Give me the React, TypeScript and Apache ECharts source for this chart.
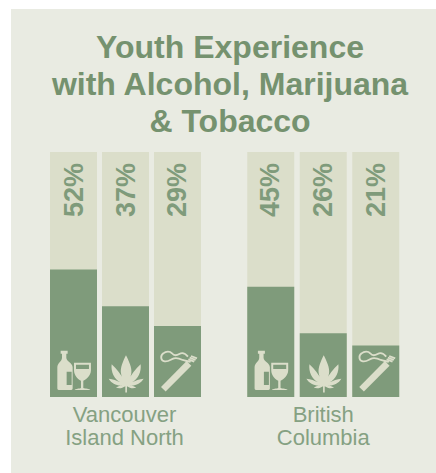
import React, { useEffect, useRef } from "react";
import * as echarts from "echarts";

const categories = ["Alcohol", "Marijuana", "Tobacco"];
const vancouverIslandNorth = [52, 37, 29];
const britishColumbia = [45, 26, 21];
const fullScale = [100, 100, 100];
const regionNames = ["Vancouver\nIsland North", "British\nColumbia"];
const titleText = "Youth Experience\nwith Alcohol, Marijuana\n& Tobacco";

const PANEL = "#e9ebe2";
const DARK = "#7f9b7b";
const LIGHT = "#dbdeca";
const TITLE = "#75926f";
const REGION = "#85a182";
const FONT = "'Liberation Sans', Arial, sans-serif";

// Icon outlines are drawn at three times the bar's pixel size; the 171-unit box sits on the bar's baseline.
const ICON_H = 171;
const BAR_W = 47;

const bottleGlass =
  "M32 32H53V41H49V53C49 65 68 68 68 82V146Q68 150 64 150H26Q22 150 22 146V82C22 68 36 65 36 53V41H32Z" +
  "M50 95V135H65V95Z" +
  "M72 68H123V90C123 108 107 120 100 122V144C106 146 119 146 121 150H74C76 146 89 146 93 144V122C86 120 72 108 72 90Z" +
  "M78 74V87H117V74Z";

const leaf =
  "M72 46C80 62 91 84 88 100C87 108 83 116 78 122C88 104 100 88 116 73C119 96 108 118 90 127C100 122 112 117 125 116C116 131 100 138 84 136" +
  "C90 137 96 139 103 143C93 147 84 145 75 139V158H70V139C61 145 52 147 42 143C49 139 55 137 61 136" +
  "C45 138 29 131 20 116C33 117 45 122 55 127C37 118 26 96 29 73C45 88 57 104 67 122C62 116 58 108 57 100C54 84 64 62 72 46Z";

const cigaretteStick = "M21 141L98 63L112 77L35 155Z";
const cigaretteFilter = "M103 58L121 65M107 53L125 60M111 48L129 55";
const cigaretteSmoke =
  "M102 50C94 40 84 37 76 42C68 47 60 48 54 40C48 33 36 33 28 40C18 48 20 62 32 64C44 66 50 58 60 55C70 52 78 56 86 60C94 63 102 63 110 66";

function makeIcon(index: number, x: number, bottom: number) {
  const pathOf = (d: string, style: object) => ({ type: "path", shape: { pathData: d }, style });
  const solid = { fill: LIGHT, stroke: "none" };
  const line = { fill: "none", stroke: LIGHT, lineWidth: 5.5 };
  const children =
    index === 0
      ? [pathOf(bottleGlass, solid)]
      : index === 1
        ? [pathOf(leaf, solid)]
        : [pathOf(cigaretteStick, solid), pathOf(cigaretteFilter, line), pathOf(cigaretteSmoke, line)];
  return {
    type: "group",
    x: x - BAR_W / 2,
    y: bottom - ICON_H / 3,
    scaleX: 1 / 3,
    scaleY: 1 / 3,
    children,
  };
}

function barSeries(values: number[], axis: number, labelX: number[]) {
  return [
    {
      type: "bar",
      name: "Scale",
      xAxisIndex: axis,
      yAxisIndex: axis,
      data: fullScale,
      barWidth: BAR_W,
      barGap: "-100%",
      silent: true,
      itemStyle: { color: LIGHT },
      label: {
        show: true,
        position: [0, 65],
        rotate: 90,
        align: "left",
        verticalAlign: "middle",
        color: DARK,
        fontFamily: FONT,
        fontWeight: "bold",
        fontSize: 27,
        formatter: (p: any) => `${values[p.dataIndex]}%`,
      },
      labelLayout: (p: any) => ({ x: p.rect.x + labelX[p.dataIndex], y: p.rect.y + 65 }),
    },
    {
      type: "bar",
      name: "Youth",
      xAxisIndex: axis,
      yAxisIndex: axis,
      data: values,
      barWidth: BAR_W,
      barGap: "-100%",
      itemStyle: { color: DARK },
    },
    {
      type: "custom",
      name: "Icons",
      xAxisIndex: axis,
      yAxisIndex: axis,
      z: 5,
      clip: false,
      data: categories.map((c) => [c, 0]),
      renderItem: (params: any, api: any) => {
        const [x, y] = api.coord([params.dataIndex, 0]);
        return makeIcon(params.dataIndex, x, y);
      },
    },
  ];
}

function categoryAxis(gridIndex: number) {
  return {
    type: "category",
    gridIndex,
    data: categories,
    axisLine: { show: false },
    axisTick: { show: false },
    axisLabel: { show: false },
    name: regionNames[gridIndex],
    nameLocation: "middle",
    nameGap: 6,
    nameTextStyle: {
      color: REGION,
      fontFamily: FONT,
      fontSize: 22,
      lineHeight: 23,
      verticalAlign: "top",
      padding: gridIndex === 0 ? [0, 2, 0, 0] : 0,
    },
  };
}

function valueAxis(gridIndex: number) {
  return { type: "value", gridIndex, min: 0, max: 100, show: false };
}

export default function App() {
  const ref = useRef<HTMLDivElement>(null);
  useEffect(() => {
    const chart = echarts.init(ref.current!, null, { renderer: "svg" });
    chart.setOption({
      animation: false,
      backgroundColor: "#ffffff",
      graphic: [
        { type: "rect", z: -10, shape: { x: 11, y: 9, width: 425, height: 464 }, style: { fill: PANEL } },
      ],
      title: {
        text: titleText,
        left: 225,
        top: 23,
        textAlign: "center",
        textStyle: {
          color: TITLE,
          fontFamily: FONT,
          fontWeight: "bold",
          fontSize: 32,
          lineHeight: 37,
        },
      },
      grid: [
        { left: 47.5, top: 152, width: 156, height: 245 },
        { left: 244.5, top: 152, width: 157.5, height: 245 },
      ],
      xAxis: [categoryAxis(0), categoryAxis(1)],
      yAxis: [valueAxis(0), valueAxis(1)],
      series: [
        ...barSeries(vancouverIslandNorth, 0, [23.5, 24, 23]),
        ...barSeries(britishColumbia, 1, [23, 23.5, 23.5]),
      ],
    });
    return () => chart.dispose();
  }, []);
  return (
    <div
      ref={ref}
      style={{ position: "absolute", left: 0, top: 0, width: 436, height: 473 }}
    />
  );
}
